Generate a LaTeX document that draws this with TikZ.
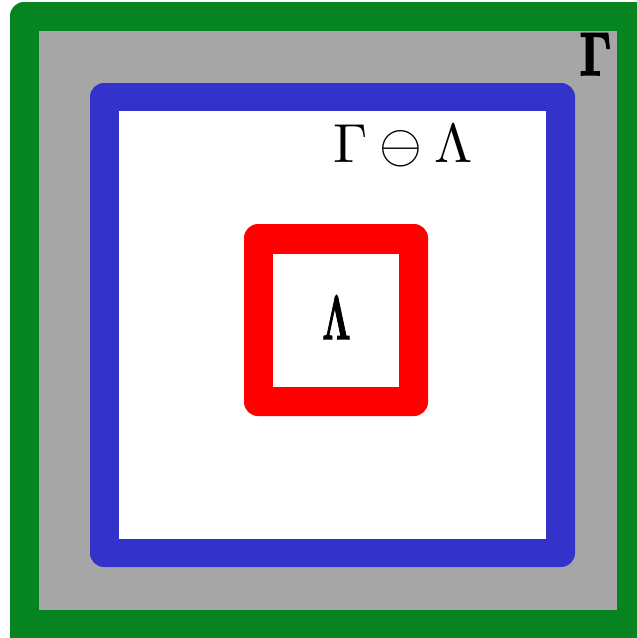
\documentclass[tikz,border=0pt]{standalone}
\usepackage{amsmath}
\newcommand{\fakebold}[2]{\special{pdf:literal direct 2 Tr #1 w}#2\special{pdf:literal direct 0 Tr 0.4 w}}
\begin{document}
\begin{tikzpicture}[x=1pt,y=-1pt,
  band/.style={rounded corners=14pt},
  hole/.style={sharp corners}]
\definecolor{gGreen}{RGB}{6,132,34}
\definecolor{gGray}{RGB}{166,166,166}
\definecolor{gBlue}{RGB}{51,51,204}
\definecolor{gRed}{RGB}{255,0,0}
\useasboundingbox (0,0) rectangle (637,638);
% outer green frame with gray interior
\fill[gGreen,band] (10,2) rectangle (651,652);
\fill[gGray,hole] (39,31) rectangle (617,610);
% blue frame
\fill[gBlue,band] (90,83) rectangle (575,567);
\fill[white,hole] (119,111) rectangle (546,539);
% red frame
\fill[gRed,band] (244,224) rectangle (428,416);
\fill[white,hole] (273,254) rectangle (399,387);
% labels
\node[xscale=4.6,yscale=6.1,inner sep=0] (gam) at (595.5,54) {\fakebold{0.3}{$\mathbf{\Gamma}$}};
\node[scale=5.5,inner sep=0] (diff) at (403,146) {$\Gamma\ominus\Lambda$};
\node[xscale=3.5,yscale=6.3,inner sep=0] (lam) at (336.5,317.5) {\fakebold{0.2}{$\mathbf{\Lambda}$}};
\end{tikzpicture}
\end{document}
